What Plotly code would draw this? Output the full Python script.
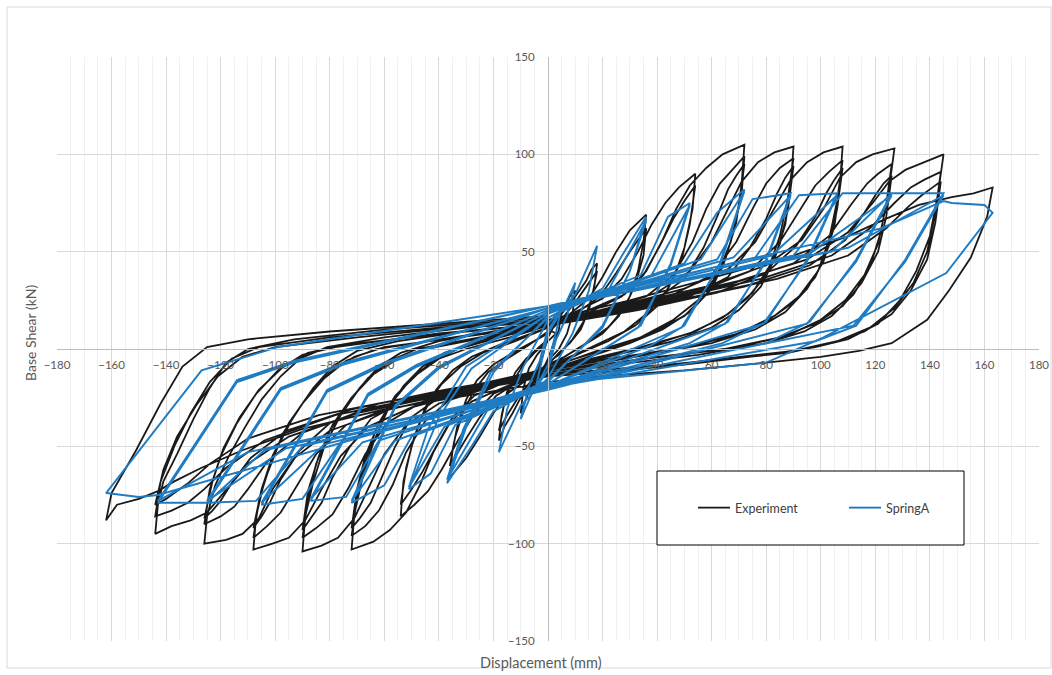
import plotly.graph_objects as go

# ---------------- Experiment loops (displacement mm, base shear kN) ----------------
E05 = [(0,8),(2,13),(4,18),(5,20),(4,10),(2,2),(0,-5),(-2,-11),(-4,-17),(-5,-22),(-4,-12),(-2,-4),(0,6)]
E10 = [(0,6),(3,14),(6,22),(8,27),(10,30),(9,18),(7,8),(4,0),(0,-6),(-4,-14),(-7,-22),(-10,-33),(-9,-20),(-7,-10),(-4,-3),(0,4),(3,8)]
E18a = [(0,10),(5,18),(10,27),(14,35),(16,41),(18,44),(17,32),(15,20),(12,10),(8,3),(4,-2),(0,-8),(-5,-16),(-10,-25),(-13,-33),(-16,-40),(-18,-47),(-17,-34),(-15,-22),(-12,-12),(-8,-5),(-4,0),(0,5)]
E18b = [(0,8),(6,17),(11,26),(15,34),(18,40),(16,26),(13,14),(9,5),(4,-3),(0,-7),(-6,-16),(-11,-25),(-15,-34),(-18,-42),(-16,-28),(-13,-17),(-9,-8),(-5,-2),(0,4)]
E36a = [(0,11),(8,18),(15,26),(20,37),(25,50),(30,61),(36,69),(35,55),(33,40),(30,27),(26,17),(20,8),(12,1),(5,-5),(0,-9),(-8,-16),(-15,-23),(-20,-33),(-25,-45),(-30,-56),(-36,-66),(-35,-52),(-33,-38),(-30,-26),(-26,-16),(-20,-8),(-13,-2),(-5,4),(0,8)]
E36b = [(0,10),(10,18),(19,27),(25,39),(30,50),(36,62),(35,48),(32,33),(28,21),(22,11),(14,3),(6,-4),(0,-8),(-10,-16),(-19,-24),(-25,-35),(-30,-46),(-36,-60),(-34,-45),(-31,-32),(-27,-21),(-22,-12),(-15,-5),(-7,2),(0,9)]
E54a = [(0,13),(10,19),(20,26),(27,36),(33,50),(38,64),(43,75),(48,83),(54,90),(53,72),(50,52),(46,36),(40,22),(32,12),(22,4),(12,-2),(0,-10),(-10,-17),(-20,-23),(-27,-33),(-33,-47),(-39,-62),(-44,-73),(-49,-80),(-54,-86),(-53,-68),(-50,-50),(-46,-34),(-41,-21),(-35,-11),(-28,-4),(-18,2),(-8,7),(0,11)]
E54b = [(0,11),(14,18),(27,27),(35,38),(41,53),(46,67),(50,76),(54,84),(52,64),(49,46),(44,31),(37,19),(28,9),(16,1),(0,-9),(-14,-16),(-27,-24),(-35,-35),(-41,-50),(-46,-63),(-50,-72),(-54,-80),(-52,-61),(-49,-45),(-45,-30),(-39,-18),(-32,-9),(-24,-2),(-12,4),(0,11)]
E72a = [(0,12),(15,20),(28,28),(36,40),(42,56),(47,72),(52,84),(58,93),(64,100),(72,105),(71,85),(69,65),(65,46),(60,31),(52,19),(42,10),(30,3),(15,-4),(0,-11),(-15,-19),(-28,-27),(-36,-38),(-42,-53),(-47,-70),(-52,-84),(-58,-93),(-64,-99),(-72,-103),(-71,-85),(-68,-66),(-64,-48),(-59,-32),(-53,-19),(-46,-9),(-38,-2),(-25,4),(-12,9),(0,13)]
E72b = [(0,13),(20,20),(36,27),(46,38),(53,55),(58,72),(63,85),(68,93),(72,99),(71,80),(68,60),(64,42),(58,28),(50,17),(38,8),(24,1),(10,-5),(0,-10),(-20,-18),(-36,-26),(-45,-37),(-52,-53),(-57,-70),(-62,-83),(-67,-91),(-72,-96),(-70,-76),(-67,-58),(-63,-41),(-57,-27),(-50,-15),(-42,-6),(-33,0),(-15,7),(0,12)]
E72c = [(0,12),(22,19),(40,26),(50,36),(57,52),(62,68),(66,82),(69,89),(72,95),(70,74),(67,55),(62,38),(55,25),(46,15),(34,6),(18,-1),(0,-10),(-22,-18),(-40,-25),(-50,-35),(-56,-50),(-61,-66),(-65,-79),(-69,-87),(-72,-92),(-70,-72),(-67,-55),(-62,-38),(-56,-24),(-48,-13),(-40,-5),(-30,0),(-14,6),(0,12)]
E90a = [(0,13),(22,21),(40,29),(52,40),(60,55),(66,72),(71,86),(77,96),(83,101),(90,104),(89,84),(87,64),(83,46),(78,32),(70,20),(60,11),(46,4),(28,-2),(12,-7),(0,-11),(-22,-20),(-40,-28),(-52,-39),(-60,-54),(-66,-72),(-71,-87),(-77,-97),(-83,-101),(-90,-104),(-89,-86),(-86,-68),(-82,-50),(-76,-34),(-69,-20),(-62,-9),(-54,-2),(-40,4),(-20,9),(0,13)]
E90b = [(0,13),(25,20),(46,28),(60,38),(69,55),(75,72),(80,85),(85,93),(90,98),(88,78),(85,58),(81,42),(75,29),(66,18),(54,9),(38,2),(18,-5),(0,-10),(-25,-19),(-46,-27),(-59,-38),(-67,-54),(-73,-71),(-79,-85),(-85,-92),(-90,-97),(-88,-77),(-85,-59),(-80,-42),(-73,-27),(-66,-15),(-58,-6),(-48,0),(-25,6),(0,12)]
E90c = [(0,12),(28,19),(52,27),(66,37),(74,52),(80,67),(84,80),(87,88),(90,94),(88,72),(85,54),(80,38),(73,26),(64,16),(52,8),(34,1),(16,-5),(0,-10),(-28,-19),(-52,-26),(-65,-36),(-73,-51),(-79,-66),(-83,-79),(-87,-87),(-90,-93),(-88,-73),(-84,-55),(-79,-39),(-72,-25),(-64,-13),(-55,-5),(-45,0),(-22,6),(0,12)]
E108a = [(0,13),(26,22),(50,31),(66,41),(76,55),(83,72),(89,87),(95,96),(101,101),(108,104),(107,84),(105,63),(101,45),(95,31),(87,19),(76,10),(60,3),(36,-3),(16,-8),(0,-12),(-26,-21),(-50,-30),(-66,-40),(-76,-55),(-83,-72),(-89,-88),(-95,-97),(-101,-100),(-108,-103),(-107,-86),(-104,-68),(-99,-50),(-93,-34),(-86,-20),(-79,-9),(-70,-1),(-55,4),(-30,9),(0,13)]
E108b = [(0,13),(30,21),(56,30),(74,40),(85,55),(92,71),(98,84),(103,91),(108,97),(106,76),(103,56),(99,40),(92,27),(83,17),(70,8),(50,1),(24,-5),(0,-11),(-30,-20),(-56,-29),(-74,-39),(-85,-54),(-92,-70),(-98,-84),(-103,-91),(-108,-97),(-106,-78),(-102,-60),(-97,-43),(-90,-28),(-82,-15),(-74,-6),(-63,0),(-30,7),(0,12)]
E108c = [(0,12),(33,20),(62,29),(80,39),(91,53),(98,68),(102,80),(105,87),(108,93),(106,72),(103,53),(98,37),(91,25),(81,15),(68,7),(48,0),(22,-5),(0,-11),(-33,-20),(-62,-28),(-80,-38),(-91,-52),(-98,-67),(-102,-79),(-105,-86),(-108,-92),(-105,-72),(-101,-55),(-95,-38),(-88,-24),(-80,-12),(-71,-4),(-60,1),(-28,7),(0,12)]
E126a = [(0,14),(30,23),(58,32),(80,43),(93,56),(101,72),(107,88),(113,96),(119,100),(127,103),(125,82),(122,60),(118,42),(112,28),(104,17),(94,9),(80,3),(55,-3),(25,-8),(0,-13),(-30,-22),(-58,-31),(-80,-42),(-93,-56),(-101,-72),(-106,-87),(-112,-95),(-118,-98),(-126,-100),(-125,-86),(-122,-70),(-117,-55),(-111,-40),(-105,-26),(-98,-14),(-91,-5),(-81,1),(-60,6),(-30,11),(0,14)]
E126b = [(0,14),(34,23),(66,33),(90,44),(103,58),(111,74),(117,85),(121,90),(126,95),(124,74),(121,54),(116,38),(109,25),(100,15),(88,7),(70,1),(35,-5),(0,-12),(-34,-22),(-66,-31),(-90,-43),(-103,-58),(-110,-72),(-115,-81),(-120,-86),(-126,-90),(-124,-72),(-120,-55),(-114,-38),(-107,-23),(-99,-11),(-90,-3),(-78,1),(-40,8),(0,13)]
E126c = [(0,13),(38,22),(72,32),(96,43),(109,56),(116,70),(120,79),(123,85),(126,89),(124,68),(121,50),(115,34),(108,22),(98,13),(85,6),(65,0),(30,-6),(0,-12),(-38,-21),(-72,-31),(-96,-42),(-109,-56),(-116,-69),(-120,-78),(-123,-83),(-126,-87),(-123,-68),(-119,-51),(-113,-35),(-106,-21),(-97,-9),(-88,-2),(-75,2),(-38,8),(0,13)]
E144a = [(0,14),(36,24),(70,35),(95,46),(110,60),(119,75),(125,86),(131,92),(138,96),(145,100),(143,80),(140,58),(135,40),(129,25),(121,13),(110,5),(98,1),(80,-3),(50,-8),(20,-12),(0,-14),(-36,-23),(-70,-33),(-95,-45),(-110,-59),(-119,-74),(-125,-84),(-131,-88),(-138,-91),(-144,-95),(-143,-80),(-141,-68),(-136,-54),(-130,-36),(-124,-20),(-118,-7),(-110,0),(-93,5),(-60,10),(-30,13),(0,16)]
E144b = [(0,15),(40,24),(78,36),(104,48),(118,62),(127,75),(133,83),(138,87),(144,91),(142,70),(139,50),(134,34),(127,21),(118,11),(106,4),(90,-1),(45,-8),(0,-13),(-40,-23),(-78,-34),(-104,-47),(-118,-61),(-126,-72),(-132,-79),(-138,-83),(-144,-86),(-142,-68),(-137,-50),(-131,-33),(-124,-17),(-116,-5),(-106,1),(-80,6),(-40,11),(0,15)]
E144c = [(0,14),(44,24),(84,36),(110,48),(124,62),(132,73),(137,79),(140,82),(144,86),(142,65),(139,46),(133,30),(126,18),(116,9),(104,3),(88,-2),(44,-8),(0,-13),(-44,-23),(-84,-34),(-110,-46),(-124,-59),(-132,-69),(-137,-74),(-140,-77),(-144,-80),(-141,-62),(-136,-45),(-129,-29),(-121,-14),(-112,-4),(-100,1),(-70,6),(-35,11),(0,15)]
E162 = [(0,15),(30,25),(59,36),(90,48),(110,58),(124,67),(136,74),(148,78),(156,80),(163,83),(161,68),(155,47),(147,30),(139,15),(126,3),(114,-1),(100,-4),(80,-7),(50,-11),(20,-14),(0,-17),(-30,-24),(-60,-31),(-90,-41),(-112,-52),(-127,-61),(-137,-68),(-143,-73),(-150,-77),(-158,-80),(-162,-88),(-160,-74),(-151,-52),(-142,-28),(-134,-9),(-125,1),(-110,5),(-80,9),(-50,12),(-20,15),(0,17)]

# ---------------- SpringA model loops ----------------
B05 = [(0,8),(3,15),(5,22),(3,9),(0,-8),(-3,-16),(-5,-23),(-3,-10),(0,8)]
B10 = [(0,10),(6,22),(10,34),(7,17),(3,5),(0,-11),(-6,-23),(-10,-36),(-7,-19),(-3,-6),(0,11)]
B18 = [(0,13),(10,28),(18,53),(15,30),(9,8),(0,-15),(-10,-29),(-18,-53),(-15,-31),(-9,-9),(0,15)]
B36 = [(0,16),(20,31),(28,50),(36,68),(30,40),(20,12),(0,-17),(-20,-32),(-28,-50),(-37,-69),(-30,-40),(-20,-12),(0,17)]
B36b = [(0,16),(22,30),(36,66),(30,40),(20,11),(0,-16),(-22,-31),(-37,-67),(-31,-41),(-21,-12),(0,16)]
B54 = [(0,18),(34,38),(44,68),(52,75),(45,44),(34,12),(0,-18),(-34,-39),(-43,-64),(-51,-72),(-40,-35),(-28,-10),(0,18)]
B54b = [(0,18),(38,38),(52,74),(45,43),(33,11),(0,-18),(-38,-40),(-51,-71),(-44,-41),(-30,-9),(0,18)]
B72 = [(0,19),(50,44),(62,70),(72,82),(63,44),(50,12),(38,2),(0,-19),(-50,-45),(-60,-70),(-72,-79),(-56,-30),(-40,-10),(0,19)]
B72b = [(0,19),(56,46),(72,81),(63,43),(49,11),(0,-19),(-56,-47),(-72,-78),(-56,-29),(-40,-9),(0,19)]
B90 = [(0,20),(62,46),(75,77),(89,80),(80,46),(66,14),(52,3),(0,-19),(-62,-47),(-74,-76),(-87,-78),(-66,-24),(-48,-9),(0,20)]
B90b = [(0,20),(68,47),(89,79),(80,45),(65,13),(0,-20),(-68,-48),(-87,-77),(-66,-23),(-48,-8),(0,20)]
B108 = [(0,21),(76,47),(92,79),(106,80),(95,46),(80,14),(64,3),(0,-20),(-76,-48),(-90,-77),(-105,-80),(-81,-22),(-60,-8),(0,21)]
B108b = [(0,20),(82,48),(106,79),(95,45),(79,13),(0,-20),(-82,-49),(-105,-79),(-81,-21),(-60,-7),(0,21)]
B126 = [(0,21),(90,48),(108,80),(126,80),(113,46),(96,14),(80,3),(0,-20),(-90,-50),(-107,-78),(-125,-79),(-98,-21),(-75,-8),(0,21)]
B126b = [(0,21),(96,49),(126,79),(113,45),(95,13),(0,-21),(-96,-51),(-125,-78),(-98,-20),(-75,-7),(0,21)]
B144 = [(0,22),(104,50),(126,80),(145,80),(131,46),(113,12),(98,4),(0,-20),(-104,-52),(-125,-79),(-143,-79),(-114,-17),(-93,-7),(0,22)]
B144b = [(0,21),(110,52),(145,79),(131,45),(112,12),(0,-20),(-110,-53),(-143,-78),(-114,-16),(-93,-6),(0,22)]
B162 = [(0,22),(122,62),(145,76),(148,75),(160,74),(163,70),(146,39),(101,6),(80,-7),(0,-18),(-143,-75),(-150,-76),(-162,-74),(-127,-11),(-99,1),(0,22)]

exp_loops = [E05, E10, E18a, E18b, E36a, E36b, E54a, E54b, E72a, E72b, E72c,
             E90a, E90b, E90c, E108a, E108b, E108c, E126a, E126b, E126c,
             E144a, E144b, E144c, E162]
spr_loops = [B05, B10, B18, B36, B36b, B54, B54b, B72, B72b, B90, B90b,
             B108, B108b, B126, B126b, B144, B144b, B162]

x_ticks = [-180, -160, -140, -120, -100, -80, -60, -40, -20, 20, 40, 60, 80, 100, 120, 140, 160, 180]
y_ticks = [-150, -100, -50, 50, 100, 150]

exp_x = [p[0] for lp in exp_loops for p in lp]
exp_y = [p[1] for lp in exp_loops for p in lp]
spr_x = [p[0] for lp in spr_loops for p in lp]
spr_y = [p[1] for lp in spr_loops for p in lp]

fig = go.Figure()
fig.add_trace(go.Scatter(x=exp_x, y=exp_y, mode="lines", name="Experiment",
                         line=dict(color="#1a1a1a", width=1.8)))
fig.add_trace(go.Scatter(x=spr_x, y=spr_y, mode="lines", name="SpringA",
                         line=dict(color="#1f7bc2", width=1.9)))

L, R, T, B = 57, 13, 57, 34
W, H = 1052, 675
pw, ph = W - L - R, H - T - B

def px(xp):
    return (xp - L) / pw

def py(yp):
    return (H - B - yp) / ph

fig.update_layout(
    width=W, height=H,
    margin=dict(l=L, r=R, t=T, b=B, autoexpand=False),
    paper_bgcolor="white", plot_bgcolor="white",
    font=dict(family="Lato, Open Sans, sans-serif", color="#595959", size=12),
    xaxis=dict(range=[-180, 180], tickmode="array", tickvals=x_ticks,
               showgrid=True, gridcolor="#d9d9d9", gridwidth=1,
               minor=dict(tickmode="linear", tick0=0, dtick=5, showgrid=True,
                          gridcolor="#f0f0f0", gridwidth=1),
               zeroline=False, showline=True, linecolor="#bfbfbf", linewidth=1,
               anchor="free", position=0.5, automargin=False,
               ticks="outside", ticklen=5, tickcolor="rgba(0,0,0,0)",
               tickfont=dict(size=11.5, color="#595959"), fixedrange=True),
    yaxis=dict(range=[-150, 150], tickmode="array", tickvals=y_ticks,
               showgrid=True, gridcolor="#d9d9d9", gridwidth=1,
               zeroline=False, showline=True, linecolor="#bfbfbf", linewidth=1,
               anchor="free", position=0.5, automargin=False,
               ticks="outside", ticklen=11, tickcolor="rgba(0,0,0,0)",
               tickfont=dict(size=11.5, color="#595959"), fixedrange=True),
    showlegend=True,
    legend=dict(orientation="h", x=px(693), y=py(508), xanchor="left", yanchor="middle",
                bgcolor="rgba(0,0,0,0)", borderwidth=0,
                font=dict(size=12.5, color="#404040"),
                entrywidth=104, entrywidthmode="pixels", itemwidth=32),
    shapes=[
        dict(type="rect", xref="paper", yref="paper",
             x0=px(7), x1=px(1051), y0=py(668), y1=py(7),
             line=dict(color="#d9d9d9", width=1), fillcolor="rgba(0,0,0,0)", layer="below"),
        dict(type="rect", xref="paper", yref="paper",
             x0=px(657), x1=px(964), y0=py(545), y1=py(471),
             line=dict(color="#000000", width=1), fillcolor="white", layer="above"),
    ],
    annotations=[
        dict(text="Base Shear (kN)", xref="paper", yref="paper", x=px(30), y=py(333),
             textangle=-90, showarrow=False, font=dict(size=14, color="#595959"),
             xanchor="center", yanchor="middle"),
        dict(text="Displacement (mm)", xref="paper", yref="paper", x=px(541), y=py(662),
             showarrow=False, font=dict(size=14.5, color="#595959"),
             xanchor="center", yanchor="middle"),
    ],
)

fig.write_html("out.html", config={"displayModeBar": False},
               post_script="document.body.style.margin='0';document.body.style.overflow='hidden';")
